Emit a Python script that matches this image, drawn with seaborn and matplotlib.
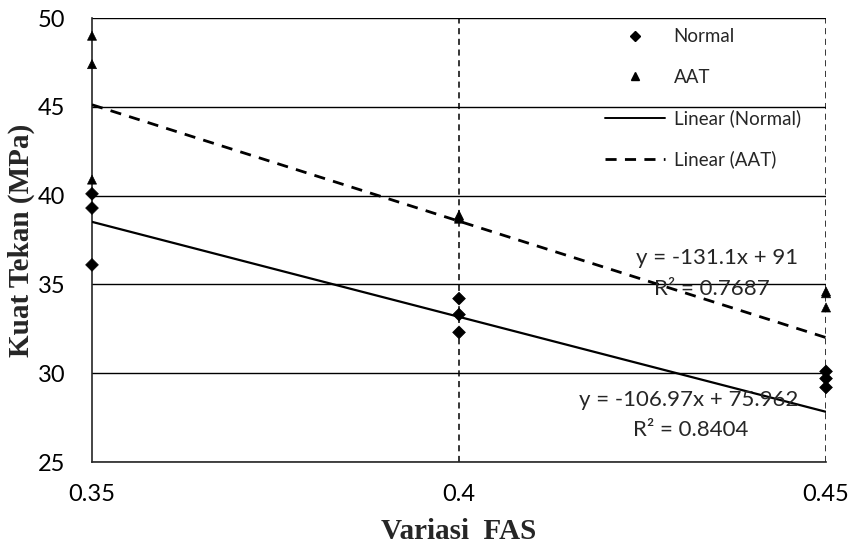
import matplotlib
matplotlib.use("Agg")
import matplotlib.pyplot as plt
from matplotlib.lines import Line2D
import numpy as np
import pandas as pd
import seaborn as sns

# Compressive strength test results per water-cement ratio (FAS)
fas_levels = [0.35, 0.35, 0.35, 0.40, 0.40, 0.40, 0.45, 0.45, 0.45]
normal_strength = [40.1, 39.3, 36.1, 34.2, 33.3, 32.3, 30.1, 29.7, 29.2]
aat_strength = [49.0, 47.4, 40.9, 38.9, 38.8, 38.7, 34.6, 34.5, 33.7]

# Linear trend coefficients (slope, intercept) and R^2
normal_fit = [-106.97, 75.962]
normal_r2 = 0.8404
aat_fit = [-131.1, 91.0]
aat_r2 = 0.7687

x_ticks = [0.35, 0.40, 0.45]
x_ticklabels = ["0.35", "0.4", "0.45"]
y_ticks = [25, 30, 35, 40, 45, 50]

sns.set_style("white")
plt.rcParams["font.family"] = ["Lato", "DejaVu Sans"]

points = pd.DataFrame({
    "FAS": fas_levels * 2,
    "Kuat": normal_strength + aat_strength,
    "Seri": ["Normal"] * len(normal_strength) + ["AAT"] * len(aat_strength),
})

fit_x = np.array([0.35, 0.45])
fit_rows = []
for name, (m, c) in [("Linear (Normal)", normal_fit), ("Linear (AAT)", aat_fit)]:
    for xv in fit_x:
        fit_rows.append({"FAS": xv, "Kuat": m * xv + c, "Seri": name})
fits = pd.DataFrame(fit_rows)

fig = plt.figure(figsize=(8.48, 5.44), dpi=100)
ax = fig.add_axes([0.1085, 0.1507, 0.8656, 0.8162])

# grid: solid horizontal, dashed vertical
ax.set_xlim(0.35, 0.45)
ax.set_ylim(25, 50)
ax.set_xticks(x_ticks)
ax.set_xticklabels(x_ticklabels)
ax.set_yticks(y_ticks)
for yv in y_ticks:
    ax.axhline(yv, color="black", lw=1.0, zorder=1)
for xv in x_ticks[1:]:
    ax.axvline(xv, color="black", lw=1.1, ls=(0, (4, 3)), zorder=1)

sns.lineplot(data=fits[fits["Seri"] == "Linear (Normal)"], x="FAS", y="Kuat",
             color="black", lw=1.6, ax=ax, zorder=3, legend=False)
sns.lineplot(data=fits[fits["Seri"] == "Linear (AAT)"], x="FAS", y="Kuat",
             color="black", lw=2.0, ls=(0, (4, 3)), ax=ax, zorder=3, legend=False)

sns.scatterplot(data=points, x="FAS", y="Kuat", style="Seri",
                markers={"Normal": "D", "AAT": "^"}, color="black",
                s=42, edgecolor="black", linewidth=0.5, ax=ax, zorder=4,
                legend=False, clip_on=False)

for side in ["top", "right"]:
    ax.spines[side].set_visible(False)
ax.spines["bottom"].set_linewidth(1.2)
ax.spines["left"].set_linewidth(1.2)
ax.tick_params(axis="both", direction="inout", length=10, width=1.1,
               labelsize=17, colors="black")
ax.tick_params(axis="x", pad=11)
ax.tick_params(axis="y", pad=14)

ax.set_xlabel("Variasi  FAS", fontsize=21, fontweight="bold",
              family="Liberation Serif", labelpad=9)
ax.set_ylabel("Kuat Tekan (MPa)", fontsize=21, fontweight="bold",
              family="Liberation Serif", labelpad=2)

handles = [
    Line2D([], [], ls="none", marker="D", color="black", markersize=5),
    Line2D([], [], ls="none", marker="^", color="black", markersize=6),
    Line2D([], [], color="black", lw=1.4),
    Line2D([], [], color="black", lw=2.0, ls=(0, (4, 3))),
]
labels = ["Normal", "AAT", "Linear (Normal)", "Linear (AAT)"]
ax.legend(handles, labels, loc="upper left", bbox_to_anchor=(0.685, 1.0),
          frameon=False, fontsize=13.5, handlelength=3.2, handletextpad=0.45,
          labelspacing=1.25, borderaxespad=0.15)

ax.text(0.4351, 36.49, f"y = {aat_fit[0]:g}x + {aat_fit[1]:g}",
        fontsize=16, ha="center", va="center", zorder=5)
ax.text(0.4345, 34.74, f"R² = {aat_r2:g}",
        fontsize=16, ha="center", va="center", zorder=5)
ax.text(0.4313, 28.49, f"y = {normal_fit[0]:g}x + {normal_fit[1]:g}",
        fontsize=16, ha="center", va="center", zorder=5)
ax.text(0.4315, 26.80, f"R² = {normal_r2:g}",
        fontsize=16, ha="center", va="center", zorder=5)

fig.savefig("out.png", dpi=100)
